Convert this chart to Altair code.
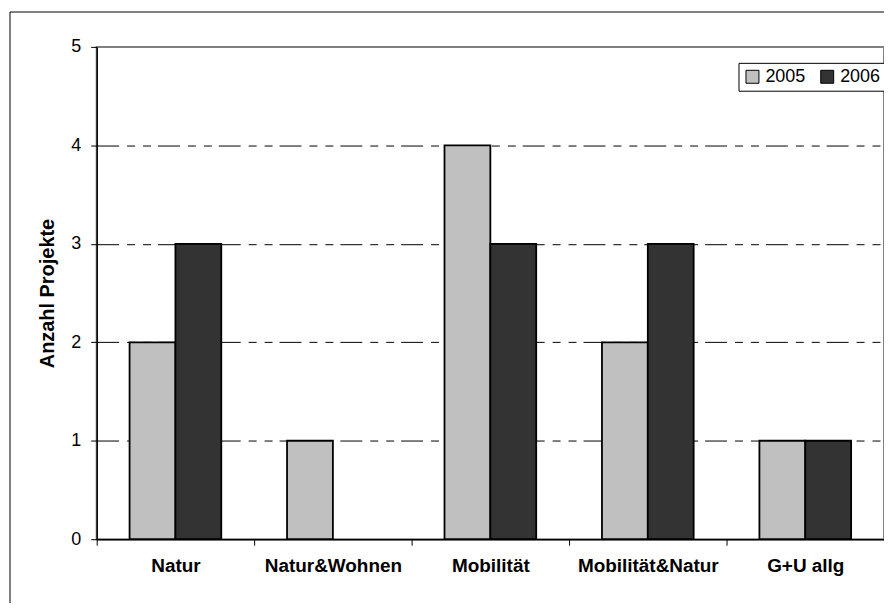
import altair as alt
import pandas as pd

categories = ["Natur", "Natur&Wohnen", "Mobilität", "Mobilität&Natur", "G+U allg"]
years = ["2005", "2006"]
values_2005 = [2, 1, 4, 2, 1]
values_2006 = [3, 0, 3, 3, 1]
year_colors = ["#C0C0C0", "#333333"]
y_ticks = [0, 1, 2, 3, 4, 5]

rows = []
for c, a, b in zip(categories, values_2005, values_2006):
    rows.append({"Kategorie": c, "Jahr": years[0], "Anzahl": a})
    rows.append({"Kategorie": c, "Jahr": years[1], "Anzahl": b})
df = pd.DataFrame(rows)

FONT = "Liberation Sans"

bars = alt.Chart(df).transform_filter("datum.Anzahl > 0").mark_bar(
    stroke="black", strokeWidth=1.8, opacity=1
).encode(
    x=alt.X(
        "Kategorie:N", sort=categories,
        scale=alt.Scale(domain=categories, paddingInner=0, paddingOuter=0),
        axis=alt.Axis(
            title=None, labelAngle=0, labelFont=FONT, labelFontSize=19,
            labelFontWeight="bold", labelColor="black", tickBand="extent",
            tickSize=6, tickColor="black", domainColor="black", domainWidth=1.5,
            labelPadding=11, grid=False,
        ),
    ),
    xOffset=alt.XOffset(
        "Jahr:N", scale=alt.Scale(domain=years, paddingInner=0, paddingOuter=0.717)
    ),
    y=alt.Y(
        "Anzahl:Q",
        scale=alt.Scale(domain=[0, 5], nice=False),
        axis=alt.Axis(
            values=y_ticks, format="d", title="Anzahl Projekte", titleFont=FONT,
            titleFontSize=20, titleFontWeight="bold", titleColor="black",
            titlePadding=13, labelFont=FONT, labelFontSize=18, labelColor="black",
            labelPadding=10, tickSize=6, tickColor="black", domainColor="black",
            domainWidth=1.5, grid=True, gridColor="black", gridWidth=1,
            gridDash=[22, 8, 8, 8, 8, 7],
            gridOpacity=alt.condition("datum.value == 0 || datum.value == 5",
                                      alt.value(0), alt.value(1)),
        ),
    ),
    color=alt.Color(
        "Jahr:N",
        scale=alt.Scale(domain=years, range=year_colors),
        legend=alt.Legend(
            title=None, orient="none", legendX=644, legendY=16,
            direction="horizontal", columns=2, symbolType="square",
            symbolSize=169, symbolStrokeColor="black", symbolStrokeWidth=1,
            symbolOpacity=1, labelFont=FONT, labelFontSize=18, labelColor="black",
            fillColor="white", strokeColor="black", padding=5,
            columnPadding=12, labelOffset=4,
        ),
    ),
)

frame_df = pd.DataFrame({"k": [0]})
frame = alt.Chart(frame_df).mark_rect(
    fill="transparent", stroke="black", strokeWidth=1, clip=False
).encode(
    x=alt.value(-87), x2=alt.value(1200), y=alt.value(-35), y2=alt.value(1200)
)

chart = alt.layer(frame, bars).properties(
    width=790, height=494,
    autosize=alt.AutoSizeParams(type="none"),
    padding={"left": 89, "top": 38, "right": 0, "bottom": 63},
    background="white",
).configure_view(stroke="#808080", strokeWidth=2)

chart.save("out.html", embed_options={"renderer": "svg", "actions": False})
